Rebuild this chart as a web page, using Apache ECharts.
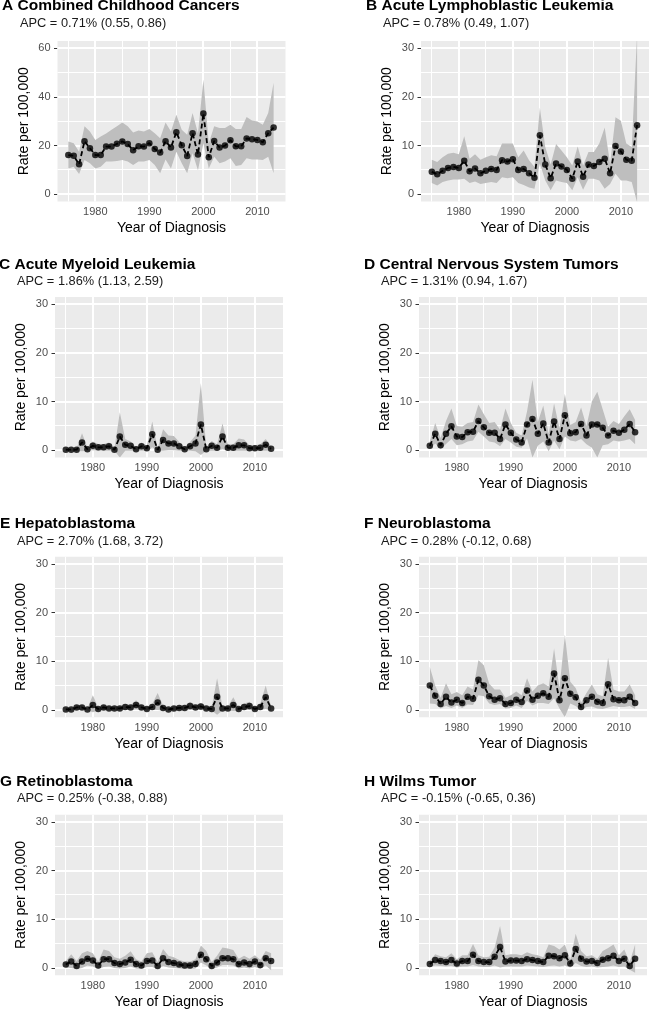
<!DOCTYPE html>
<html><head><meta charset="utf-8">
<script src="https://cdn.jsdelivr.net/npm/echarts@6/dist/echarts.min.js"></script>
<style>html,body{margin:0;padding:0;background:#fff}#c{width:657px;height:1020px}</style>
</head><body><div id="c"></div><script>
// ---------- data ----------
const years = [1975,1976,1977,1978,1979,1980,1981,1982,1983,1984,1985,1986,1987,1988,1989,1990,1991,1992,1993,1994,1995,1996,1997,1998,1999,2000,2001,2002,2003,2004,2005,2006,2007,2008,2009,2010,2011,2012,2013];

const aRate  = [16.1,15.8,12.3,21.8,18.9,16.1,16.1,19.6,19.6,20.7,21.7,20.6,18.1,19.7,19.6,21.0,18.6,17.1,21.8,19.2,25.5,20.1,15.7,25.1,16.3,33.2,15.2,21.9,19.2,20.0,22.2,19.7,19.7,22.9,22.6,22.3,21.4,25.1,27.4];
const aLower = [10.6,11.3,8.3,14.1,12.7,10.6,11.3,13.4,13.4,13.7,14.1,13.4,12.0,13.4,13.4,14.1,12.0,8.6,14.3,10.6,17.5,12.7,8.6,16.8,9.9,21.0,10.6,15.4,12.7,13.4,14.8,11.6,12.0,14.8,14.3,14.3,14.1,15.4,8.6];
const aUpper = [21.7,21.0,17.5,27.9,25.8,22.3,23.7,25.0,26.5,27.9,29.5,27.9,25.4,26.2,25.8,26.8,25.1,23.0,29.5,25.8,32.7,26.5,24.4,33.4,25.1,47.2,21.0,27.9,27.2,27.2,28.6,26.8,26.8,31.7,30.3,29.9,28.6,33.4,45.8];

const bRate  = [4.6,4.1,4.8,5.4,5.6,5.4,6.9,4.7,5.3,4.3,4.8,5.2,5.0,7.0,6.7,7.2,5.0,5.2,4.3,3.4,12.1,6.1,3.3,6.3,5.7,5.0,3.2,6.7,3.6,6.1,5.8,6.6,7.3,4.3,9.9,8.8,7.1,6.9,14.2];
const bLower = [2.3,1.8,2.5,2.8,3.0,3.0,3.2,2.3,2.6,2.1,2.3,2.5,2.3,3.5,3.3,3.5,2.3,1.9,1.4,1.1,6.3,2.8,0.8,2.8,2.5,2.3,0.8,3.5,0.9,3.2,3.2,2.8,1.1,2.1,4.2,2.8,2.8,2.5,-1.7];
const bUpper = [7.1,6.6,7.6,8.3,8.5,8.2,11.9,7.3,8.2,7.1,7.6,8.0,7.8,10.4,10.4,10.4,7.6,9.0,7.0,5.6,17.8,9.7,6.1,10.3,9.0,7.6,5.9,9.8,5.9,8.7,8.7,10.4,13.7,6.3,15.8,15.1,10.4,9.7,33.0];

const cRate  = [0.1,0.1,0.1,1.6,0.2,0.9,0.6,0.6,0.8,0.1,2.8,1.1,0.9,0.2,0.8,0.4,3.3,0.1,2.1,1.4,1.4,0.8,0.2,0.8,1.4,5.3,0.2,0.9,0.5,2.8,0.5,0.5,1.0,1.0,0.4,0.4,0.5,1.1,0.3];
const cLower = [-0.1,-0.1,-0.1,-0.2,-0.1,0.0,-0.1,-0.1,-0.1,-0.1,-1.5,-0.1,-0.1,-0.1,-0.1,-0.1,0.6,-0.1,-0.1,0.0,0.0,-0.1,-0.1,-0.1,-0.2,-1.0,-0.1,-0.1,-0.1,0.2,-0.1,-0.1,-0.1,-0.1,-0.1,-0.1,-0.1,-0.1,-0.1];
const cUpper = [0.3,0.3,0.4,3.5,0.6,1.8,1.3,1.3,1.6,0.4,7.8,2.3,1.8,0.6,1.6,0.9,5.9,0.4,4.3,3.0,2.9,1.7,0.6,1.7,3.0,13.8,0.6,1.9,1.2,5.5,1.2,1.2,2.4,2.2,1.0,1.0,1.2,2.3,0.8];

const dRate  = [0.9,3.4,1.0,3.4,4.9,2.8,2.7,3.7,3.8,6.0,4.7,3.6,3.6,2.3,5.3,3.6,2.2,1.6,5.3,6.4,3.4,5.5,1.6,5.9,2.3,7.2,3.5,3.7,5.4,3.0,5.3,5.3,4.6,3.0,4.0,3.6,4.2,5.4,3.7];
const dLower = [0.2,1.4,0.2,1.3,2.3,1.0,1.2,1.8,2.0,3.8,2.8,1.8,1.6,0.8,2.3,1.6,0.7,0.5,2.4,-1.5,0.9,1.8,-0.2,2.0,0.2,2.8,2.0,1.8,2.3,1.2,0.5,-1.5,1.0,1.2,2.0,1.8,2.0,2.3,1.2];
const dUpper = [1.8,5.6,2.5,6.0,8.6,5.0,4.8,5.6,5.8,9.4,7.4,5.6,5.8,4.2,8.6,5.6,3.6,3.0,8.0,14.5,5.8,9.2,3.4,9.6,4.5,11.6,5.2,5.8,8.8,5.0,10.0,12.0,8.4,4.8,6.0,5.4,7.0,8.4,6.2];

const eRate  = [0.1,0.1,0.5,0.5,0.1,1.0,0.2,0.5,0.3,0.3,0.3,0.6,0.5,1.0,0.5,0.2,0.6,1.5,0.4,0.1,0.3,0.4,0.4,0.8,0.5,0.7,0.3,0.2,2.7,0.3,0.3,1.0,0.2,0.6,0.8,0.2,0.6,2.6,0.3];
const eLower = [-0.1,-0.1,0.0,0.0,-0.1,-0.5,-0.1,0.0,-0.1,-0.1,-0.1,0.0,0.0,0.1,0.0,-0.1,0.0,0.0,-0.1,-0.1,-0.1,-0.1,-0.1,0.0,0.0,0.0,-0.1,-0.1,-1.0,-0.1,-0.1,-0.2,-0.1,0.0,0.0,-0.1,0.0,0.2,-0.1];
const eUpper = [0.3,0.3,1.0,1.0,0.3,3.0,0.5,1.0,0.7,0.7,0.7,1.2,1.0,2.0,1.0,0.5,1.2,3.5,0.9,0.3,0.7,0.9,0.9,1.7,1.0,1.4,0.7,0.5,6.5,0.7,0.7,2.6,0.5,1.3,1.7,0.5,1.3,5.0,0.7];

const fRate  = [5.0,2.9,1.2,2.7,1.5,2.1,1.4,2.7,2.3,6.2,5.0,2.8,2.1,2.4,1.2,1.4,2.1,1.6,4.0,2.1,2.9,3.4,2.7,7.5,2.0,6.5,3.3,2.6,0.6,2.0,2.7,1.7,1.4,5.3,2.2,2.0,2.0,2.7,1.4];
const fLower = [1.3,1.2,0.3,0.8,0.4,0.9,0.4,1.1,1.0,3.0,2.8,1.3,1.0,1.2,0.3,0.4,0.9,0.4,1.9,0.9,1.4,1.4,1.2,2.4,0.3,-1.5,1.3,0.8,0.0,0.6,0.7,0.3,0.2,0.5,0.8,0.6,0.6,0.8,0.2];
const fUpper = [8.8,5.0,2.5,5.5,3.2,3.7,3.0,4.8,4.2,10.2,9.2,5.4,4.2,4.2,2.5,3.0,3.8,3.0,6.5,3.8,5.0,5.5,4.8,12.6,4.5,15.5,5.8,4.5,1.5,3.5,5.2,3.2,2.8,10.7,4.2,3.8,3.8,5.2,3.0];

const gRate  = [0.7,1.3,0.4,1.3,1.9,1.5,0.5,1.8,1.8,1.0,0.8,1.1,1.7,0.8,0.5,1.4,1.5,0.4,2.0,1.2,1.0,0.7,0.5,0.5,0.8,2.7,1.8,0.4,1.1,2.0,2.0,1.8,0.8,1.1,0.8,1.3,0.6,2.0,1.4];
const gLower = [0.1,0.0,-0.2,0.0,0.5,0.3,-0.2,0.2,0.3,0.0,-0.1,0.0,0.3,-0.1,-0.2,0.2,0.2,-0.2,0.4,0.1,0.0,-0.1,-0.2,-0.2,-0.1,1.1,0.5,-0.2,0.1,0.6,0.6,0.5,-0.1,0.1,-0.1,0.2,-0.2,0.5,-0.5];
const gUpper = [1.4,2.8,1.4,3.0,3.5,3.0,1.3,3.8,3.5,2.2,1.9,2.5,3.4,1.8,1.3,3.0,3.2,1.2,3.9,2.5,2.2,1.6,1.3,1.3,1.8,4.6,3.5,1.2,2.5,4.2,4.0,3.7,1.9,2.5,1.9,2.6,1.7,3.5,3.0];

const hRate  = [0.8,1.6,1.4,1.2,1.6,0.9,1.4,1.4,2.7,1.4,1.2,1.2,2.3,4.3,1.3,1.5,1.5,1.4,1.8,1.6,1.4,1.2,2.5,2.4,2.0,2.6,0.9,3.9,1.9,1.3,1.4,1.0,1.7,2.0,2.5,1.4,1.9,0.4,1.9];
const hLower = [0.2,0.5,0.4,0.3,0.4,0.1,0.3,0.3,0.6,0.3,0.2,0.2,0.5,0.1,0.3,0.3,0.3,0.3,0.5,0.4,0.3,0.2,0.4,0.5,0.3,0.5,0.1,1.0,0.4,0.2,0.3,0.1,0.2,0.3,0.5,0.2,0.3,-0.4,-1.0];
const hUpper = [1.4,2.8,2.4,2.2,3.0,1.8,2.6,2.6,4.9,2.6,2.2,2.3,4.2,8.6,2.6,2.8,2.8,2.6,3.2,2.8,2.6,2.2,4.8,4.5,3.8,4.8,1.7,7.0,3.5,2.4,2.6,1.9,3.5,4.1,4.8,2.6,3.8,1.2,4.8];

const panelTitles = ['A Combined Childhood Cancers','B Acute Lymphoblastic Leukemia','C Acute Myeloid Leukemia','D Central Nervous System Tumors','E Hepatoblastoma','F Neuroblastoma','G Retinoblastoma','H Wilms Tumor'];
const apcLabels = ['APC = 0.71% (0.55, 0.86)','APC = 0.78% (0.49, 1.07)','APC = 1.86% (1.13, 2.59)','APC = 1.31% (0.94, 1.67)','APC = 2.70% (1.68, 3.72)','APC = 0.28% (-0.12, 0.68)','APC = 0.25% (-0.38, 0.88)','APC = -0.15% (-0.65, 0.36)'];
const xTicks = [1980,1990,2000,2010];
const xMinor = [1975,1985,1995,2005,2015];
const yTicksA = [0,20,40,60];
const yMinorA = [10,30,50];
const yTicks = [0,10,20,30];
const yMinor = [5,15,25];
const xAxisTitle = 'Year of Diagnosis';
const yAxisTitle = 'Rate per 100,000';

// ---------- layout ----------
const FONT = "'Liberation Sans', Arial, Helvetica, sans-serif";
const W = 228, H = 160.5;
const X_MIN = 1973.0, X_MAX = 2015.2;
const layout = [
  {left:57.5, top:41,    tx:2,   ty:6,     sx:20,  sy:23},
  {left:421,  top:41,    tx:366, ty:6,     sx:383, sy:23},
  {left:55,   top:297,   tx:-1,  ty:265,   sx:17,  sy:281.3},
  {left:419,  top:297,   tx:364, ty:265,   sx:381, sy:281.7},
  {left:55,   top:556.7, tx:0,   ty:523.5, sx:17,  sy:541},
  {left:419,  top:556.7, tx:364, ty:524,   sx:381, sy:541.5},
  {left:55,   top:814.7, tx:0,   ty:782,   sx:17,  sy:798.5},
  {left:419,  top:814.7, tx:364, ty:782,   sx:381, sy:798.8}
];
const panels = [
  {rate:aRate, lo:aLower, hi:aUpper, ticks:yTicksA, minor:yMinorA, yMin:-3,   yMax:63},
  {rate:bRate, lo:bLower, hi:bUpper, ticks:yTicks,  minor:yMinor,  yMin:-1.5, yMax:31.5},
  {rate:cRate, lo:cLower, hi:cUpper, ticks:yTicks,  minor:yMinor,  yMin:-1.5, yMax:31.5},
  {rate:dRate, lo:dLower, hi:dUpper, ticks:yTicks,  minor:yMinor,  yMin:-1.5, yMax:31.5},
  {rate:eRate, lo:eLower, hi:eUpper, ticks:yTicks,  minor:yMinor,  yMin:-1.5, yMax:31.5},
  {rate:fRate, lo:fLower, hi:fUpper, ticks:yTicks,  minor:yMinor,  yMin:-1.5, yMax:31.5},
  {rate:gRate, lo:gLower, hi:gUpper, ticks:yTicks,  minor:yMinor,  yMin:-1.5, yMax:31.5},
  {rate:hRate, lo:hLower, hi:hUpper, ticks:yTicks,  minor:yMinor,  yMin:-1.5, yMax:31.5}
];

const grid = [], xAxis = [], yAxis = [], series = [], graphic = [];
panels.forEach((p, i) => {
  const L = layout[i];
  grid.push({left:L.left, top:L.top, width:W, height:H, show:false, containLabel:false});
  xAxis.push({
    type:'value', gridIndex:i, min:X_MIN, max:X_MAX,
    axisLine:{show:false}, splitLine:{show:false},
    axisTick:{show:true, customValues:xTicks, length:3.5, lineStyle:{color:'#333333', width:1}},
    axisLabel:{show:true, customValues:xTicks, margin:5, color:'#4d4d4d', fontSize:11, fontFamily:FONT, formatter:v=>String(v)}
  });
  yAxis.push({
    type:'value', gridIndex:i, min:p.yMin, max:p.yMax,
    axisLine:{show:false}, splitLine:{show:false},
    axisTick:{show:true, customValues:p.ticks, length:3.5, lineStyle:{color:'#333333', width:1}},
    axisLabel:{show:true, customValues:p.ticks, margin:7, color:'#4d4d4d', fontSize:11, fontFamily:FONT, formatter:v=>String(v)}
  });
  // panel background + grid lines (pixel-snapped white rules)
  series.push({
    type:'custom', xAxisIndex:i, yAxisIndex:i, silent:true, z:1,
    data:[[xTicks[0], p.ticks[0]]],
    renderItem:(params, api) => {
      const cs = params.coordSys;
      const kids = [{type:'rect', shape:{x:cs.x, y:cs.y, width:cs.width, height:cs.height}, style:{fill:'#ebebeb'}}];
      const vline = (v, w) => {
        const x = api.coord([v, p.yMin])[0];
        const x0 = w >= 2 ? Math.round(x) - 1 : Math.round(x - 0.5);
        kids.push({type:'rect', shape:{x:x0, y:cs.y, width:w, height:cs.height}, style:{fill:'#ffffff'}});
      };
      const hline = (v, w) => {
        const y = api.coord([X_MIN, v])[1];
        const y0 = w >= 2 ? Math.round(y) - 1 : Math.round(y - 0.5);
        kids.push({type:'rect', shape:{x:cs.x, y:y0, width:cs.width, height:w}, style:{fill:'#ffffff'}});
      };
      xMinor.forEach(v => { if (v > X_MIN && v < X_MAX - 0.3) vline(v, 1); });
      p.minor.forEach(v => hline(v, 1));
      xTicks.forEach(v => vline(v, 2));
      p.ticks.forEach(v => hline(v, 2));
      return {type:'group', children:kids};
    }
  });
  // confidence band
  series.push({
    type:'custom', xAxisIndex:i, yAxisIndex:i, silent:true, z:2, clip:true,
    data: years.map((y, k) => [y, p.lo[k], p.hi[k]]),
    encode:{x:0, y:[1,2]},
    renderItem:(params, api) => {
      if (params.dataIndex !== 0) return null;
      const pts = [];
      for (let k = 0; k < years.length; k++) pts.push(api.coord([years[k], p.hi[k]]));
      for (let k = years.length - 1; k >= 0; k--) pts.push(api.coord([years[k], p.lo[k]]));
      return {type:'polygon', shape:{points:pts}, style:{fill:'#bebebe'}};
    }
  });
  // dashed line
  series.push({
    type:'line', xAxisIndex:i, yAxisIndex:i, silent:true, z:3, symbol:'none',
    data: years.map((y, k) => [y, p.rate[k]]),
    lineStyle:{color:'#000', width:1.8, type:[5,3]}
  });
  // points
  series.push({
    type:'scatter', xAxisIndex:i, yAxisIndex:i, silent:true, z:4,
    symbol:'circle', symbolSize:6.5,
    data: years.map((y, k) => [y, p.rate[k]]),
    itemStyle:{color:'#000'}
  });
  // texts
  graphic.push({type:'text', x:L.tx, y:L.ty, silent:true,
    style:{text:panelTitles[i], font:'bold 15.5px '+FONT, fill:'#000', align:'left', verticalAlign:'middle', textAlign:'left', textVerticalAlign:'middle'}});
  graphic.push({type:'text', x:L.sx, y:L.sy, silent:true,
    style:{text:apcLabels[i], font:'12.8px '+FONT, fill:'#1a1a1a', align:'left', verticalAlign:'middle', textAlign:'left', textVerticalAlign:'middle'}});
  graphic.push({type:'text', x:L.left + W/2, y:L.top + H + 26.7, silent:true,
    style:{text:xAxisTitle, font:'14px '+FONT, fill:'#000', align:'center', verticalAlign:'middle', textAlign:'center', textVerticalAlign:'middle'}});
  graphic.push({type:'text', x:L.left - 33.5, y:L.top + H/2, rotation:Math.PI/2, silent:true,
    style:{text:yAxisTitle, font:'14px '+FONT, fill:'#000', align:'center', verticalAlign:'middle', textAlign:'center', textVerticalAlign:'middle'}});
});

const chart = echarts.init(document.getElementById('c'), null, {renderer:'canvas'});
chart.setOption({animation:false, backgroundColor:'#ffffff', grid, xAxis, yAxis, series, graphic});
</script></body></html>
